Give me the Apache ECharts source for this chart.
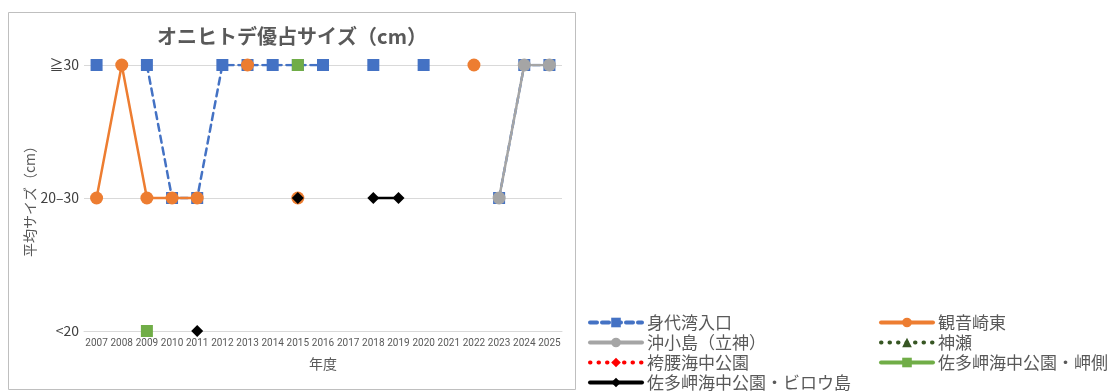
<!DOCTYPE html>
<html>
<head>
<meta charset="utf-8">
<script src="https://cdn.jsdelivr.net/npm/echarts@6/dist/echarts.min.js"></script>
<style>
  html, body { margin: 0; padding: 0; background: #fff; }
  #chart { width: 1118px; height: 391px; }
</style>
</head>
<body>
<div id="chart"></div>
<script>
// 年度
var years = ["2007", "2008", "2009", "2010", "2011", "2012", "2013", "2014", "2015", "2016",
  "2017", "2018", "2019", "2020", "2021", "2022", "2023", "2024", "2025"];
// 0: <20, 1: 20–30, 2: ≧30
var sizeLabels = ["<20", "20–30", "≧30"];

var minoshiro = [2, null, 2, 1, 1, 2, 2, 2, 2, 2, null, 2, null, 2, null, null, 1, 2, 2];
var kannonzaki = [1, 2, 1, 1, 1, null, 2, null, 1, null, null, null, null, null, null, 2, null, null, null];
var okikojima = [null, null, null, null, null, null, null, null, null, null, null, null, null, null, null, null, 1, 2, 2];
var kanze = [null, null, null, null, null, null, null, null, null, null, null, null, null, null, null, null, null, null, null];
var hakamagoshi = [null, null, null, null, null, null, null, null, null, null, null, null, null, null, null, null, null, null, null];
var sataMisaki = [null, null, 0, null, null, null, null, null, 2, null, null, null, null, null, null, null, null, null, null];
var sataBiro = [null, null, null, null, 0, null, null, null, 1, null, null, 1, 1, null, null, null, null, null, null];

function lineSeries(name, data, color, symbol, size, lineType) {
  return {
    name: name,
    type: "line",
    data: data,
    symbol: symbol,
    symbolSize: size,
    showAllSymbol: true,
    connectNulls: false,
    color: color,
    itemStyle: { color: color },
    lineStyle: { color: color, width: 2.5, type: lineType || "solid", cap: "round" },
    emphasis: { disabled: true },
    animation: false
  };
}

var legendText = { color: "#595959", fontSize: 17, fontFamily: "Noto Sans CJK JP", lineHeight: 17 };

function legendCol(left, names) {
  return {
    orient: "vertical",
    left: left,
    top: 309,
    height: 150,
    itemWidth: 52,
    itemHeight: 12,
    itemGap: 3,
    lineStyle: { width: 4 },
    textStyle: legendText,
    data: names
  };
}

var option = {
  animation: false,
  title: {
    text: "オニヒトデ優占サイズ（cm）",
    left: 287,
    textAlign: "center",
    top: 21,
    textStyle: { color: "#595959", fontSize: 20, fontWeight: "bold", fontFamily: "Noto Sans CJK JP" }
  },
  grid: { left: 84, right: 556, top: 65, bottom: 60 },
  graphic: [{
    type: "rect",
    shape: { x: 8.5, y: 12.5, width: 567, height: 377 },
    style: { fill: "none", stroke: "#bfbfbf", lineWidth: 1 },
    silent: true
  }],
  xAxis: {
    type: "category",
    data: years,
    name: "年度",
    nameLocation: "middle",
    nameGap: 26,
    nameTextStyle: { color: "#595959", fontSize: 14, fontFamily: "Noto Sans CJK JP" },
    axisLine: { lineStyle: { color: "#d9d9d9" } },
    axisTick: { show: false },
    axisLabel: {
      interval: 0,
      margin: 7,
      color: "#595959",
      fontSize: 10,
      fontFamily: "Roboto"
    }
  },
  yAxis: {
    type: "value",
    min: 0,
    max: 2,
    interval: 1,
    name: "平均サイズ（cm）",
    nameLocation: "middle",
    nameGap: 41,
    nameTextStyle: { color: "#595959", fontSize: 14, fontFamily: "Noto Sans CJK JP" },
    axisLine: { show: false },
    axisTick: { show: false },
    splitLine: { lineStyle: { color: "#d9d9d9" } },
    axisLabel: {
      margin: 5,
      color: "#404040",
      fontSize: 14,
      fontFamily: "Noto Sans CJK JP",
      formatter: function (v) { return sizeLabels[v]; }
    }
  },
  legend: [
    legendCol(583, ["身代湾入口", "沖小島（立神）", "袴腰海中公園", "佐多岬海中公園・ビロウ島"]),
    legendCol(874, ["観音崎東", "神瀬", "佐多岬海中公園・岬側"])
  ],
  series: [
    lineSeries("身代湾入口", minoshiro, "#4472C4", "rect", 12, [7, 5]),
    lineSeries("観音崎東", kannonzaki, "#ED7D31", "circle", 13),
    lineSeries("沖小島（立神）", okikojima, "#A5A5A5", "circle", 13),
    lineSeries("神瀬", kanze, "#375623", "triangle", 10, [0.5, 8]),
    lineSeries("袴腰海中公園", hakamagoshi, "#FF0000", "diamond", 10, [0.5, 8]),
    lineSeries("佐多岬海中公園・岬側", sataMisaki, "#70AD47", "rect", 12),
    lineSeries("佐多岬海中公園・ビロウ島", sataBiro, "#000000", "diamond", 12)
  ]
};

var chart = echarts.init(document.getElementById("chart"));
chart.setOption(option);
</script>
</body>
</html>
